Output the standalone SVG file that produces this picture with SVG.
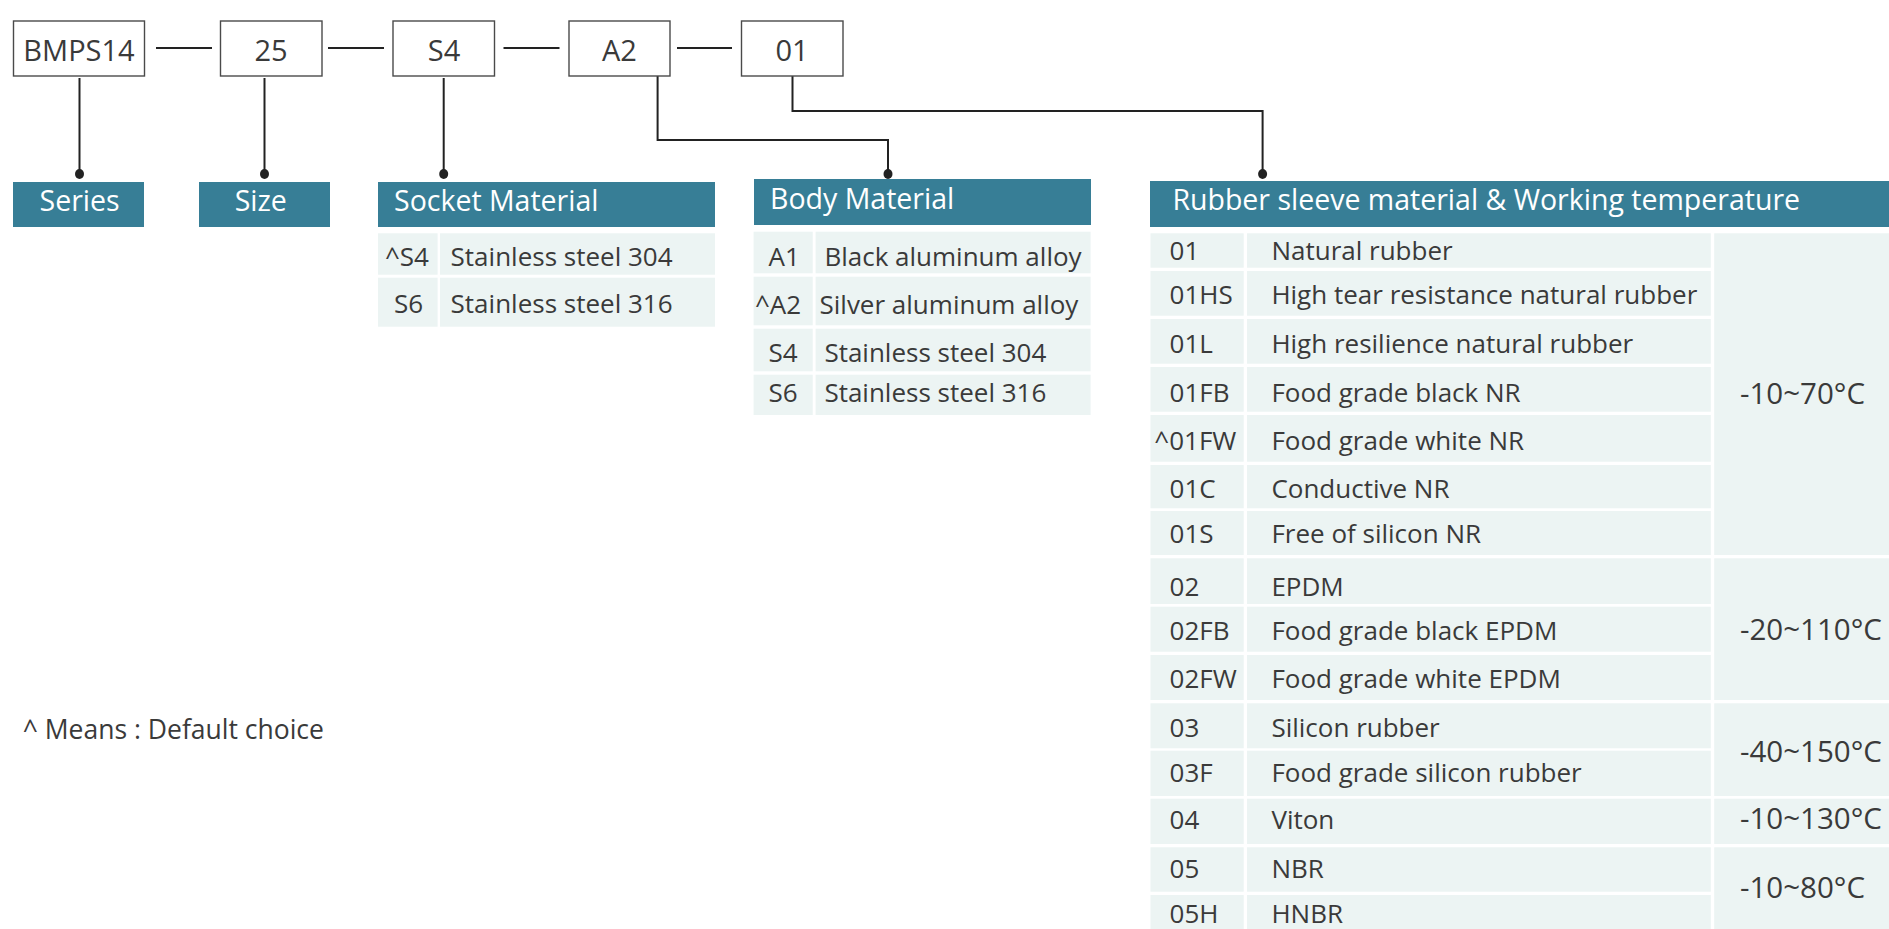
<svg xmlns="http://www.w3.org/2000/svg" width="1889" height="929" viewBox="0 0 1889 929">
<style>
.box{fill:#fff;stroke:#4a4a4a;stroke-width:1.4}
.bt{font-family:"Open Sans","Noto Sans",sans-serif;font-size:29px;fill:#3a3a3a;text-anchor:middle}
.hd{fill:#377e96}
.ht{font-family:"Open Sans","Noto Sans",sans-serif;font-size:28.5px;fill:#fff}
.c{fill:#ecf4f3}
.t{font-family:"Open Sans","Noto Sans",sans-serif;font-size:26px;fill:#3a3a3a}
.tp{font-family:"Open Sans","Noto Sans",sans-serif;font-size:29.5px;fill:#3a3a3a}
.ln{fill:none;stroke:#222;stroke-width:2}
.dot{fill:#222}
</style>
<rect width="1889" height="929" fill="#fff"/>

<g id="connectors">
<path class="ln" d="M156 48H212M328 48H384M503.5 48H559.5M677 48H732"/>
<path class="ln" d="M79.5 78V174"/>
<path class="ln" d="M264.5 78V174"/>
<path class="ln" d="M443.7 78V174"/>
<path class="ln" d="M657.6 76V140H888V174"/>
<path class="ln" d="M792.5 76V111H1262.6V174"/>
<ellipse class="dot" cx="79.5" cy="174" rx="4.5" ry="5"/>
<ellipse class="dot" cx="264.5" cy="174" rx="4.5" ry="5"/>
<ellipse class="dot" cx="443.7" cy="174" rx="4.5" ry="5"/>
<ellipse class="dot" cx="888" cy="174" rx="4.5" ry="5"/>
<ellipse class="dot" cx="1262.6" cy="174" rx="4.5" ry="5"/>
</g>

<g id="box-bmps14"><rect class="box" x="13.5" y="21" width="131" height="55"/><text class="bt" x="79" y="60.5">BMPS14</text></g>
<g id="box-25"><rect class="box" x="220.5" y="21" width="101.5" height="55"/><text class="bt" x="271" y="60.5">25</text></g>
<g id="box-s4"><rect class="box" x="393" y="21" width="101.5" height="55"/><text class="bt" x="444" y="60.5">S4</text></g>
<g id="box-a2"><rect class="box" x="569" y="21" width="101" height="55"/><text class="bt" x="619.5" y="60.5">A2</text></g>
<g id="box-01"><rect class="box" x="741.5" y="21" width="101.5" height="55"/><text class="bt" x="792" y="60.5">01</text></g>

<g id="series"><rect class="hd" x="13" y="182" width="131" height="45"/><text class="ht" x="39.5" y="210.5">Series</text></g>
<g id="size"><rect class="hd" x="199" y="182" width="131" height="45"/><text class="ht" x="234.7" y="210.5">Size</text></g>

<g id="socket-material">
<rect class="hd" x="378" y="182" width="337" height="45"/><text class="ht" x="394" y="210.5">Socket Material</text>
<rect class="c" x="378" y="233.3" width="59.6" height="41.4"/><rect class="c" x="440" y="233.3" width="275" height="41.4"/>
<rect class="c" x="378" y="277.7" width="59.6" height="49"/><rect class="c" x="440" y="277.7" width="275" height="49"/>
<text class="t" x="385" y="266">^S4</text><text class="t" x="450.6" y="266">Stainless steel 304</text>
<text class="t" x="394" y="313.3">S6</text><text class="t" x="450.6" y="313.3">Stainless steel 316</text>
</g>

<g id="body-material">
<rect class="hd" x="754" y="179" width="337" height="46"/><text class="ht" x="770" y="209.3">Body Material</text>
<rect class="c" x="753.6" y="231.7" width="59.1" height="41.6"/><rect class="c" x="815.6" y="231.7" width="275" height="41.6"/>
<rect class="c" x="753.6" y="276.7" width="59.1" height="48.6"/><rect class="c" x="815.6" y="276.7" width="275" height="48.6"/>
<rect class="c" x="753.6" y="328.7" width="59.1" height="42.6"/><rect class="c" x="815.6" y="328.7" width="275" height="42.6"/>
<rect class="c" x="753.6" y="374.7" width="59.1" height="40.3"/><rect class="c" x="815.6" y="374.7" width="275" height="40.3"/>
<text class="t" x="768.6" y="265.7">A1</text><text class="t" x="824.4" y="265.7">Black aluminum alloy</text>
<text class="t" x="755" y="314">^A2</text><text class="t" x="819.5" y="314">Silver aluminum alloy</text>
<text class="t" x="768.6" y="361.7">S4</text><text class="t" x="824.4" y="361.7">Stainless steel 304</text>
<text class="t" x="768.6" y="402.3">S6</text><text class="t" x="824.4" y="402.3">Stainless steel 316</text>
</g>

<g id="rubber-sleeve">
<rect class="hd" x="1150" y="181" width="739" height="46"/><text class="ht" x="1172.4" y="210">Rubber sleeve material &amp; Working temperature</text>
<g>
<rect class="c" x="1150.5" y="233.3" width="93.2" height="34.4"/><rect class="c" x="1247" y="233.3" width="463.8" height="34.4"/>
<rect class="c" x="1150.5" y="271" width="93.2" height="44.7"/><rect class="c" x="1247" y="271" width="463.8" height="44.7"/>
<rect class="c" x="1150.5" y="319" width="93.2" height="44.7"/><rect class="c" x="1247" y="319" width="463.8" height="44.7"/>
<rect class="c" x="1150.5" y="367" width="93.2" height="44.7"/><rect class="c" x="1247" y="367" width="463.8" height="44.7"/>
<rect class="c" x="1150.5" y="415" width="93.2" height="46.7"/><rect class="c" x="1247" y="415" width="463.8" height="46.7"/>
<rect class="c" x="1150.5" y="465" width="93.2" height="43.3"/><rect class="c" x="1247" y="465" width="463.8" height="43.3"/>
<rect class="c" x="1150.5" y="511" width="93.2" height="44"/><rect class="c" x="1247" y="511" width="463.8" height="44"/>
<rect class="c" x="1150.5" y="558.3" width="93.2" height="45.7"/><rect class="c" x="1247" y="558.3" width="463.8" height="45.7"/>
<rect class="c" x="1150.5" y="606.7" width="93.2" height="45"/><rect class="c" x="1247" y="606.7" width="463.8" height="45"/>
<rect class="c" x="1150.5" y="655" width="93.2" height="45"/><rect class="c" x="1247" y="655" width="463.8" height="45"/>
<rect class="c" x="1150.5" y="703.3" width="93.2" height="45"/><rect class="c" x="1247" y="703.3" width="463.8" height="45"/>
<rect class="c" x="1150.5" y="750.7" width="93.2" height="45.3"/><rect class="c" x="1247" y="750.7" width="463.8" height="45.3"/>
<rect class="c" x="1150.5" y="798.7" width="93.2" height="45.3"/><rect class="c" x="1247" y="798.7" width="463.8" height="45.3"/>
<rect class="c" x="1150.5" y="847.3" width="93.2" height="44.4"/><rect class="c" x="1247" y="847.3" width="463.8" height="44.4"/>
<rect class="c" x="1150.5" y="895" width="93.2" height="40"/><rect class="c" x="1247" y="895" width="463.8" height="40"/>
<rect class="c" x="1714.2" y="233.3" width="180" height="321.7"/>
<rect class="c" x="1714.2" y="558.3" width="180" height="141.7"/>
<rect class="c" x="1714.2" y="703.3" width="180" height="92.7"/>
<rect class="c" x="1714.2" y="798.7" width="180" height="45.3"/>
<rect class="c" x="1714.2" y="847.3" width="180" height="90"/>
</g>
<text class="t" x="1169.6" y="259.7">01</text><text class="t" x="1271.4" y="259.7">Natural rubber</text>
<text class="t" x="1169.6" y="303.7">01HS</text><text class="t" x="1271.4" y="303.7">High tear resistance natural rubber</text>
<text class="t" x="1169.6" y="352.7">01L</text><text class="t" x="1271.4" y="352.7">High resilience natural rubber</text>
<text class="t" x="1169.6" y="401.7">01FB</text><text class="t" x="1271.4" y="401.7">Food grade black NR</text>
<text class="t" x="1154.3" y="450.3">^01FW</text><text class="t" x="1271.4" y="450.3">Food grade white NR</text>
<text class="t" x="1169.6" y="498.3">01C</text><text class="t" x="1271.4" y="498.3">Conductive NR</text>
<text class="t" x="1169.6" y="543.3">01S</text><text class="t" x="1271.4" y="543.3">Free of silicon NR</text>
<text class="t" x="1169.6" y="595.7">02</text><text class="t" x="1271.4" y="595.7">EPDM</text>
<text class="t" x="1169.6" y="640">02FB</text><text class="t" x="1271.4" y="640">Food grade black EPDM</text>
<text class="t" x="1169.6" y="687.7">02FW</text><text class="t" x="1271.4" y="687.7">Food grade white EPDM</text>
<text class="t" x="1169.6" y="736.7">03</text><text class="t" x="1271.4" y="736.7">Silicon rubber</text>
<text class="t" x="1169.6" y="781.7">03F</text><text class="t" x="1271.4" y="781.7">Food grade silicon rubber</text>
<text class="t" x="1169.6" y="829.3">04</text><text class="t" x="1271.4" y="829.3">Viton</text>
<text class="t" x="1169.6" y="878.3">05</text><text class="t" x="1271.4" y="878.3">NBR</text>
<text class="t" x="1169.6" y="923.3">05H</text><text class="t" x="1271.4" y="923.3">HNBR</text>
<text class="tp" x="1740" y="404">-10~70°C</text>
<text class="tp" x="1740" y="640">-20~110°C</text>
<text class="tp" x="1740" y="762.3">-40~150°C</text>
<text class="tp" x="1740" y="829.3">-10~130°C</text>
<text class="tp" x="1740" y="898.3">-10~80°C</text>
</g>

<text id="footnote" class="t" x="22.7" y="739.3" style="font-size:26.5px">^ Means : Default choice</text>
</svg>
